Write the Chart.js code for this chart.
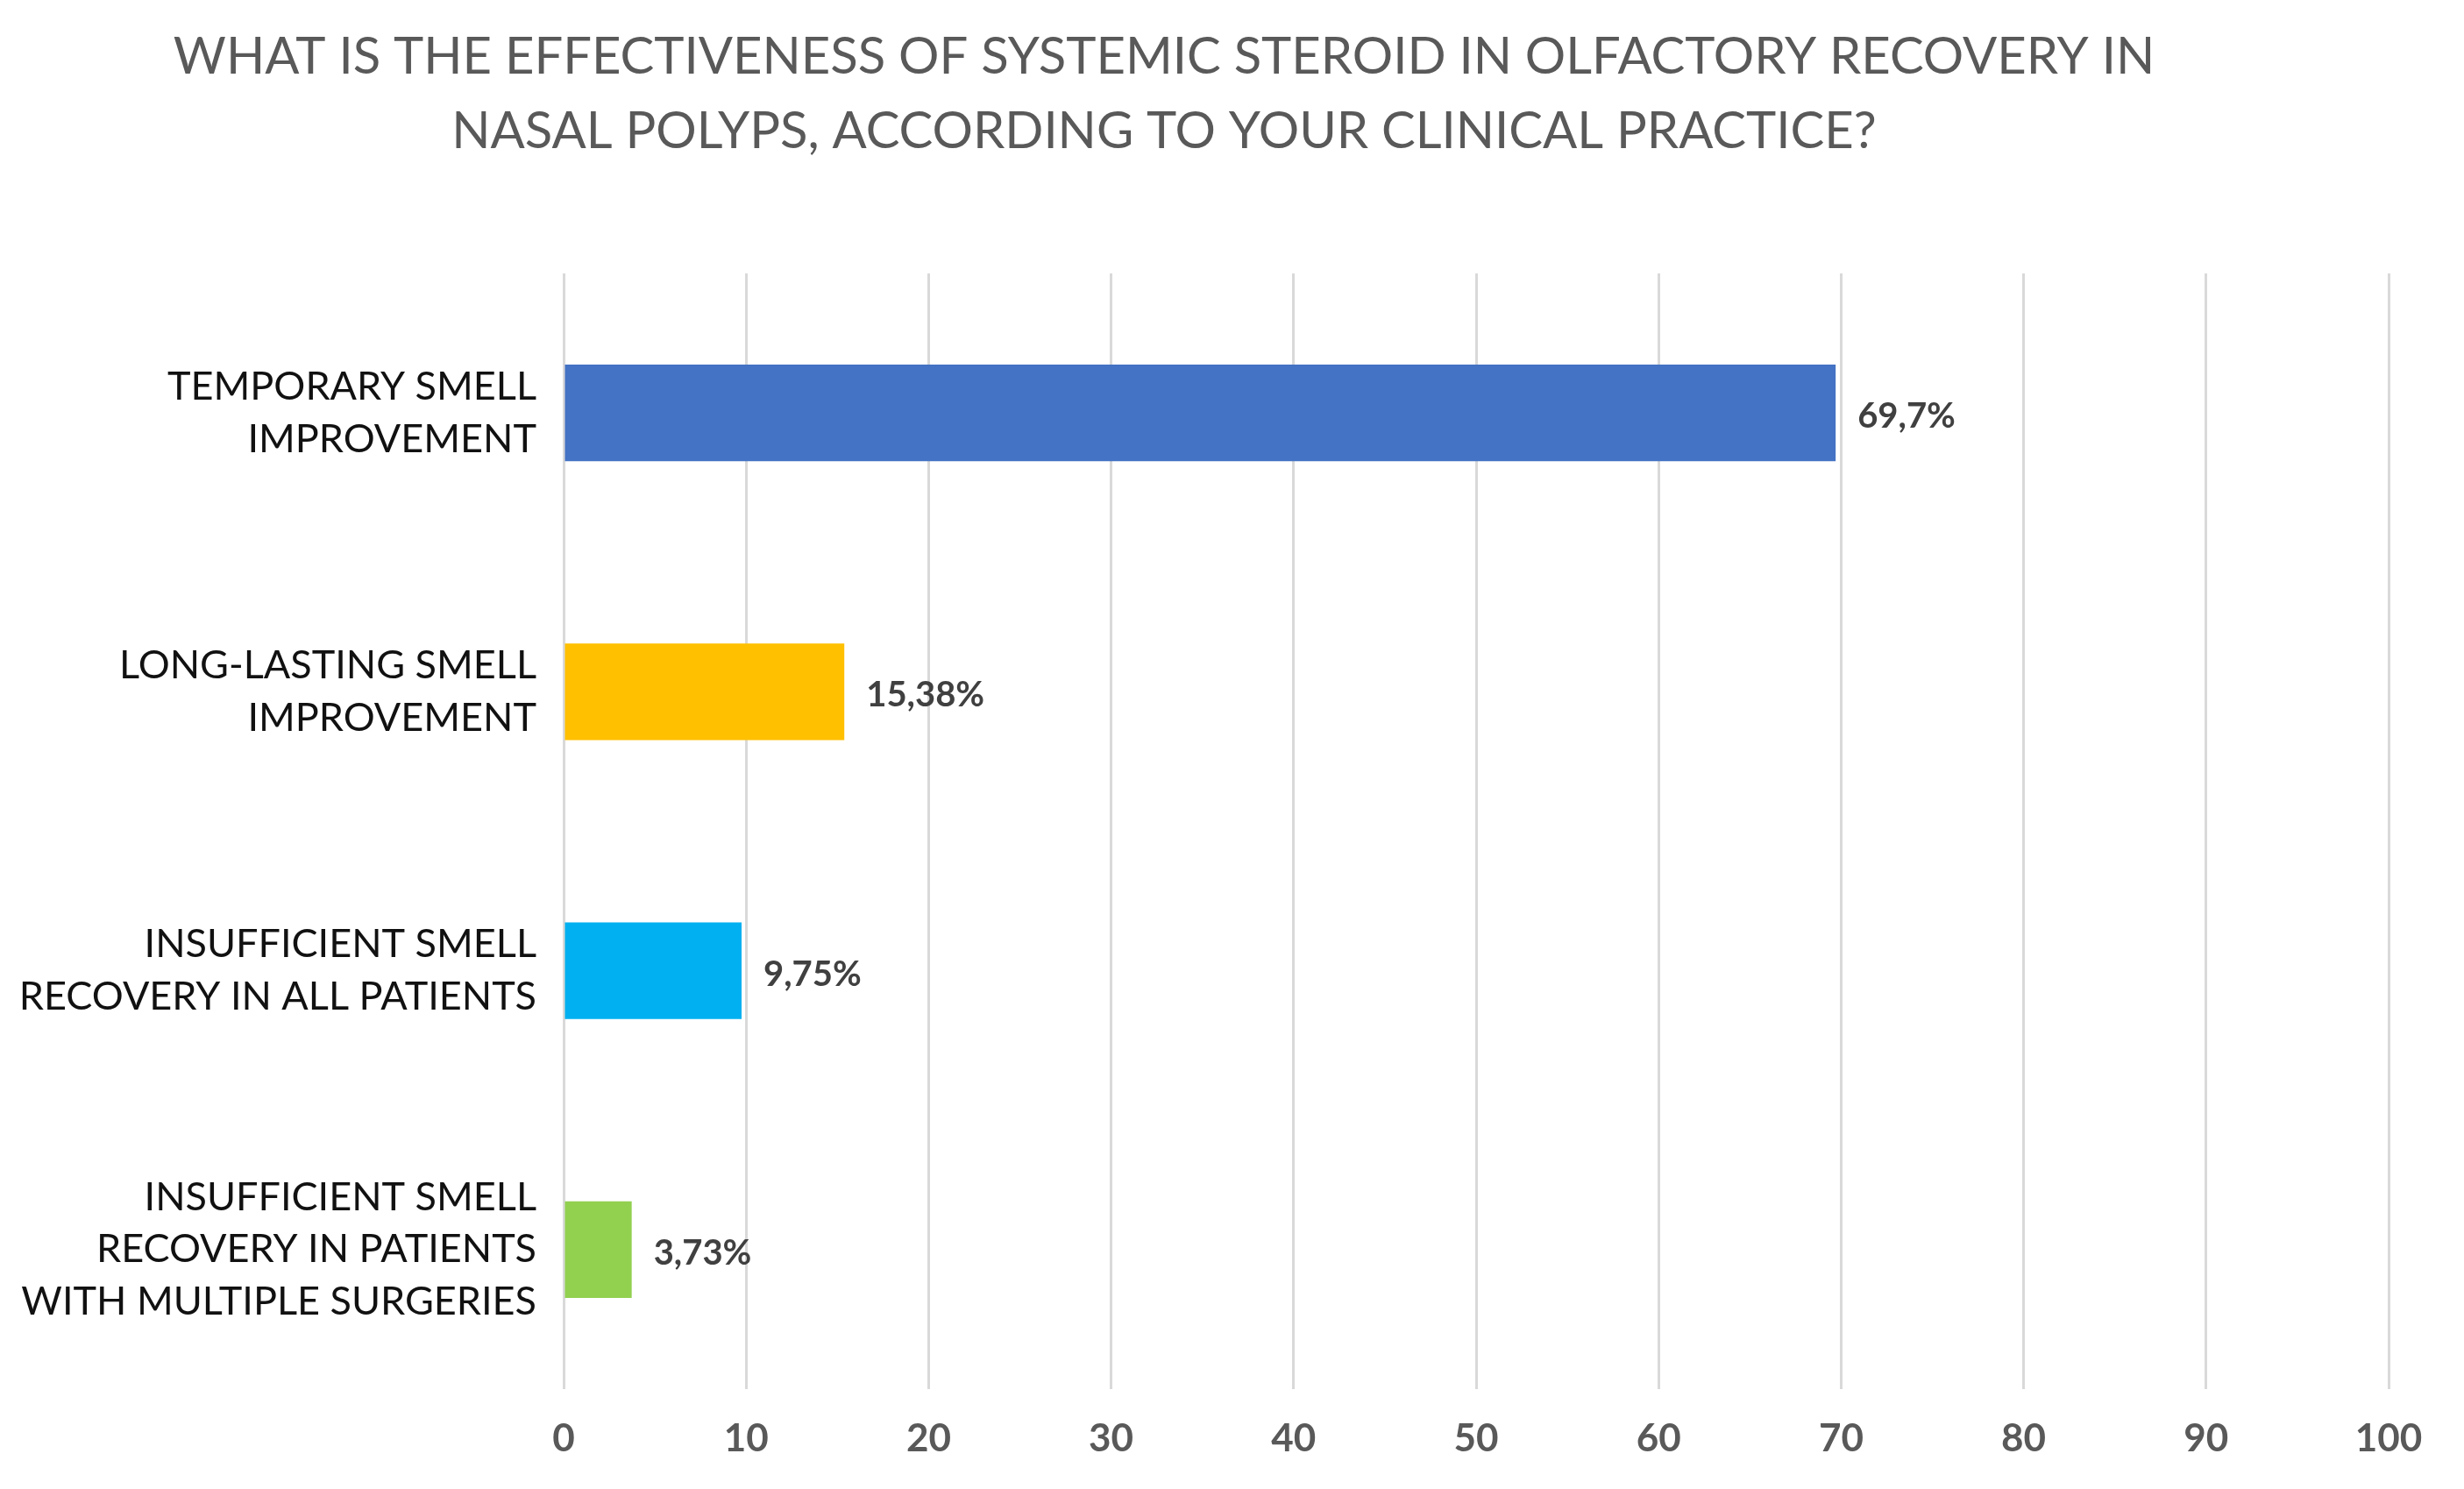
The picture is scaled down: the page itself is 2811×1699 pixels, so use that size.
<!DOCTYPE html>
<html>
<head>
<meta charset="utf-8">
<script src="https://cdn.jsdelivr.net/npm/chart.js@4"></script>
<style>
    html, body { margin: 0; padding: 0; background: #fff; }
    #wrap { width: 2811px; height: 1699px; position: relative; }
</style>
</head>
<body>
<div id="wrap"><canvas id="chart-olfato"></canvas></div>
<script>
// Dados do gráfico
const titleLines = [
    'WHAT IS THE EFFECTIVENESS OF SYSTEMIC STEROID IN OLFACTORY RECOVERY IN',
    'NASAL POLYPS, ACCORDING TO YOUR CLINICAL PRACTICE?'
];
const categories = [
    ['TEMPORARY SMELL', 'IMPROVEMENT'],
    ['LONG-LASTING SMELL', 'IMPROVEMENT'],
    ['INSUFFICIENT SMELL', 'RECOVERY IN ALL PATIENTS'],
    ['INSUFFICIENT SMELL', 'RECOVERY IN PATIENTS', 'WITH MULTIPLE SURGERIES']
];
const values = [69.7, 15.38, 9.75, 3.73];
const barColors = ['#4472C4', '#FFC000', '#00B0F0', '#92D050'];
const xTicks = [0, 10, 20, 30, 40, 50, 60, 70, 80, 90, 100];

const FONT = 'Lato, "Open Sans", sans-serif';

// Título desenhado à mão (centralizado como no original)
const titlePlugin = {
    id: 'tituloManual',
    afterDraw(chart) {
        const ctx = chart.ctx;
        ctx.save();
        ctx.fillStyle = '#595959';
        ctx.font = '58px ' + FONT;
        ctx.textAlign = 'center';
        ctx.textBaseline = 'alphabetic';
        ctx.fillText(titleLines[0], 1328, 84);
        ctx.fillText(titleLines[1], 1328, 169);
        ctx.restore();
    }
};

// Rótulos de valor ao lado das barras
const valueLabels = {
    id: 'rotulosValor',
    afterDatasetsDraw(chart) {
        const ctx = chart.ctx;
        const meta = chart.getDatasetMeta(0);
        ctx.save();
        ctx.fillStyle = '#404040';
        ctx.font = 'bold 40px ' + FONT;
        ctx.textAlign = 'left';
        ctx.textBaseline = 'middle';
        meta.data.forEach(function(bar, i) {
            const txt = String(values[i]).replace('.', ',') + '%';
            ctx.fillText(txt, bar.x + 25, bar.y + 4);
        });
        ctx.restore();
    }
};

const ctx = document.getElementById('chart-olfato');
new Chart(ctx, {
    type: 'bar',
    data: {
        labels: categories,
        datasets: [{
            data: values,
            backgroundColor: barColors,
            borderWidth: 0,
            categoryPercentage: 1,
            barPercentage: 0.346
        }]
    },
    options: {
        indexAxis: 'y',
        responsive: true,
        maintainAspectRatio: false,
        devicePixelRatio: 1,
        animation: false,
        layout: {
            padding: { top: 312, left: 0, right: 86, bottom: 0 }
        },
        plugins: {
            legend: { display: false },
            tooltip: { enabled: false }
        },
        scales: {
            x: {
                min: 0,
                max: 100,
                afterBuildTicks: function(scale) {
                    scale.ticks = xTicks.map(v => ({ value: v }));
                },
                afterFit: function(scale) {
                    scale.height = 1699 - 1585;
                    scale.paddingLeft = 0;
                    scale.paddingRight = 0;
                },
                grid: {
                    color: '#D9D9D9',
                    lineWidth: 3,
                    drawTicks: false
                },
                border: { display: false },
                ticks: {
                    padding: 30,
                    color: '#595959',
                    font: { family: FONT, size: 44, weight: 'bold' }
                }
            },
            y: {
                afterFit: function(scale) {
                    scale.width = 643;
                },
                grid: { display: false, drawTicks: false },
                border: { display: false },
                ticks: {
                    padding: 31,
                    color: '#111111',
                    font: { family: FONT, size: 45, lineHeight: 1.33 }
                }
            }
        }
    },
    plugins: [titlePlugin, valueLabels]
});
</script>
</body>
</html>
